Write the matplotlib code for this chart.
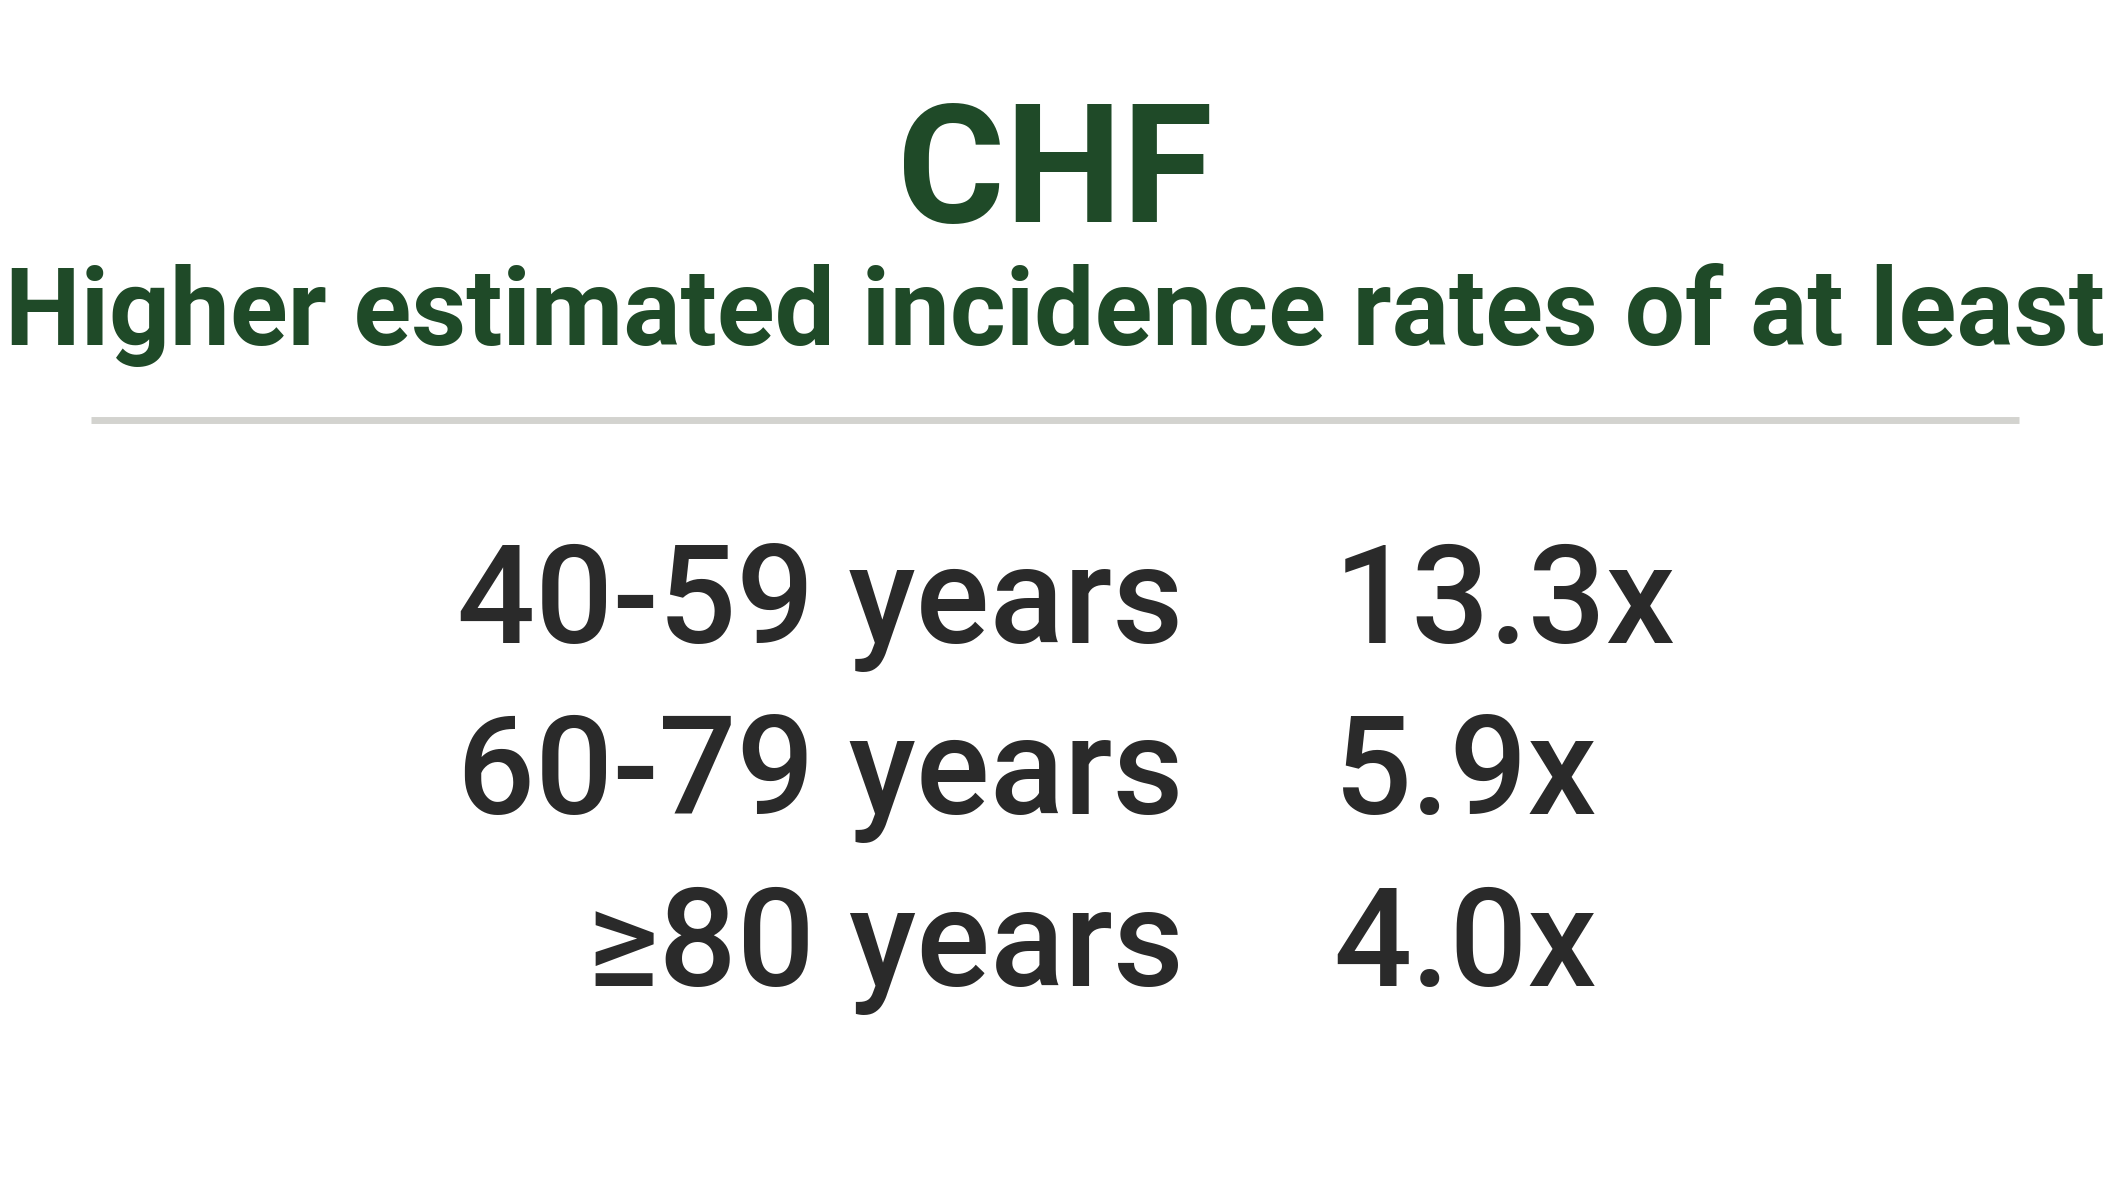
import matplotlib.pyplot as plt
from matplotlib.lines import Line2D

title = "CHF"
subtitle = "Higher estimated incidence rates of at least"
age_groups = ["40-59 years", "60-79 years", "\u226580 years"]
rates = ["13.3x", "5.9x", "4.0x"]

green = "#1f4a28"
dark = "#2a2a2a"

fig = plt.figure(figsize=(21.1, 11.87), dpi=100)
fig.patch.set_facecolor("white")

fig.text(0.5, 0.813, title, ha="center", va="baseline", fontsize=119,
         fontweight="bold", family=["Roboto", "DejaVu Sans"], color=green)
fig.text(0.5, 0.709, subtitle, ha="center", va="baseline", fontsize=77,
         fontweight="bold", family=["Roboto", "DejaVu Sans"], color=green)

fig.add_artist(Line2D([0.043, 0.957], [0.646, 0.646], transform=fig.transFigure,
                      color="#d3d3cf", linewidth=5, solid_capstyle="butt"))

baselines = [0.458, 0.314, 0.169]
for label, rate, yb in zip(age_groups, rates, baselines):
    fig.text(0.561, yb, label, ha="right", va="baseline", fontsize=99,
             fontweight="medium", family=["Roboto", "DejaVu Sans"], color=dark)
    fig.text(0.632, yb, rate, ha="left", va="baseline", fontsize=99,
             fontweight="medium", family=["Roboto", "DejaVu Sans"], color=dark)

fig.savefig("out.png", dpi=100, facecolor="white")
